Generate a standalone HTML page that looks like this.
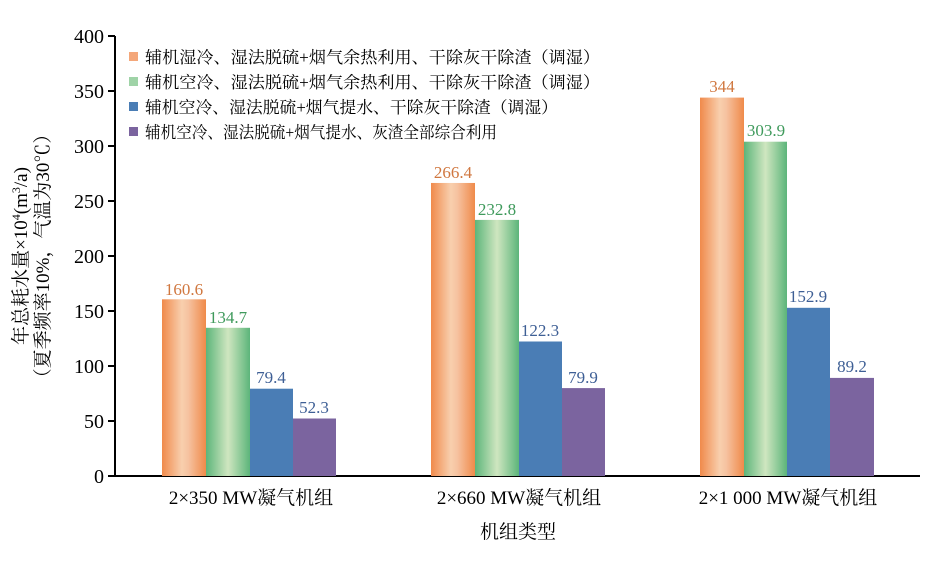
<!DOCTYPE html>
<html><head><meta charset="utf-8"><style>
body{margin:0;background:#fff}
text{font-family:"Liberation Serif","Noto Serif CJK SC",serif}
</style></head><body>
<svg width="950" height="577" xmlns="http://www.w3.org/2000/svg">
<defs>
<linearGradient id="go" x1="0" x2="1"><stop offset="0" stop-color="#f08a4b"/><stop offset="0.45" stop-color="#f8cfae"/><stop offset="0.6" stop-color="#f6c2a0"/><stop offset="1" stop-color="#ef8a4a"/></linearGradient>
<linearGradient id="gg" x1="0" x2="1"><stop offset="0" stop-color="#5cb57a"/><stop offset="0.5" stop-color="#cfe6c0"/><stop offset="1" stop-color="#5cb57a"/></linearGradient>
</defs>
<g stroke="#000" stroke-width="2" fill="none">
<path d="M115,36 V476 H920"/>
<path d="M108,36H115M108,91H115M108,146H115M108,201H115M108,256H115M108,311H115M108,366H115M108,421H115M108,476H115"/>
</g>
<g font-size="20" text-anchor="end">
<text x="104" y="43">400</text><text x="104" y="98">350</text><text x="104" y="153">300</text><text x="104" y="208">250</text><text x="104" y="263">200</text><text x="104" y="318">150</text><text x="104" y="373">100</text><text x="104" y="428">50</text><text x="104" y="483">0</text>
</g>
<g transform="translate(27,256) rotate(-90)" font-size="19" text-anchor="middle">
<text x="0" y="0">年总耗水量×10<tspan font-size="12" dy="-7">4</tspan><tspan dy="7">(m</tspan><tspan font-size="12" dy="-7">3</tspan><tspan dy="7">/a)</tspan></text>
<text x="0" y="22">（夏季频率10%，气温为30℃）</text>
</g>
<g>
<rect x="162" y="299.3" width="44" height="176.7" fill="url(#go)"/>
<rect x="206" y="327.8" width="44" height="148.2" fill="url(#gg)"/>
<rect x="250" y="388.7" width="43" height="87.3" fill="#4a7db5"/>
<rect x="293" y="418.5" width="43" height="57.5" fill="#7b649f"/>
<rect x="431" y="182.96" width="44" height="293.04" fill="url(#go)"/>
<rect x="475" y="219.9" width="44" height="256.1" fill="url(#gg)"/>
<rect x="519" y="341.5" width="43" height="134.5" fill="#4a7db5"/>
<rect x="562" y="388.1" width="43" height="87.9" fill="#7b649f"/>
<rect x="700" y="97.6" width="44" height="378.4" fill="url(#go)"/>
<rect x="744" y="141.7" width="43" height="334.3" fill="url(#gg)"/>
<rect x="787" y="307.8" width="43" height="168.2" fill="#4a7db5"/>
<rect x="830" y="377.9" width="44" height="98.1" fill="#7b649f"/>
</g>
<g font-size="17" text-anchor="middle">
<text x="184" y="295" fill="#d0773f">160.6</text>
<text x="228" y="323" fill="#3f9a5c">134.7</text>
<text x="271" y="383" fill="#3e5f95">79.4</text>
<text x="314" y="413" fill="#3e5f95">52.3</text>
<text x="453" y="178" fill="#d0773f">266.4</text>
<text x="497" y="215" fill="#3f9a5c">232.8</text>
<text x="540" y="336" fill="#3e5f95">122.3</text>
<text x="583" y="383" fill="#3e5f95">79.9</text>
<text x="722" y="92" fill="#d0773f">344</text>
<text x="766" y="136" fill="#3f9a5c">303.9</text>
<text x="808" y="302" fill="#3e5f95">152.9</text>
<text x="852" y="372" fill="#3e5f95">89.2</text>
</g>
<g font-size="19" text-anchor="middle">
<text x="251" y="504">2×350 MW凝气机组</text>
<text x="519" y="504">2×660 MW凝气机组</text>
<text x="788" y="504">2×1 000 MW凝气机组</text>
<text x="518" y="538">机组类型</text>
</g>
<g font-size="16.5">
<rect x="129" y="52" width="9" height="9" fill="#f4a77a"/><text x="145" y="63" textLength="455" lengthAdjust="spacingAndGlyphs">辅机湿冷、湿法脱硫+烟气余热利用、干除灰干除渣（调湿）</text>
<rect x="129" y="77" width="9" height="9" fill="#9fd3a7"/><text x="145" y="88" textLength="455" lengthAdjust="spacingAndGlyphs">辅机空冷、湿法脱硫+烟气余热利用、干除灰干除渣（调湿）</text>
<rect x="129" y="102" width="9" height="9" fill="#4a7db5"/><text x="145" y="113" textLength="413" lengthAdjust="spacingAndGlyphs">辅机空冷、湿法脱硫+烟气提水、干除灰干除渣（调湿）</text>
<rect x="129" y="127" width="9" height="9" fill="#7b649f"/><text x="145" y="138" textLength="352" lengthAdjust="spacingAndGlyphs">辅机空冷、湿法脱硫+烟气提水、灰渣全部综合利用</text>
</g>
</svg>
</body></html>
